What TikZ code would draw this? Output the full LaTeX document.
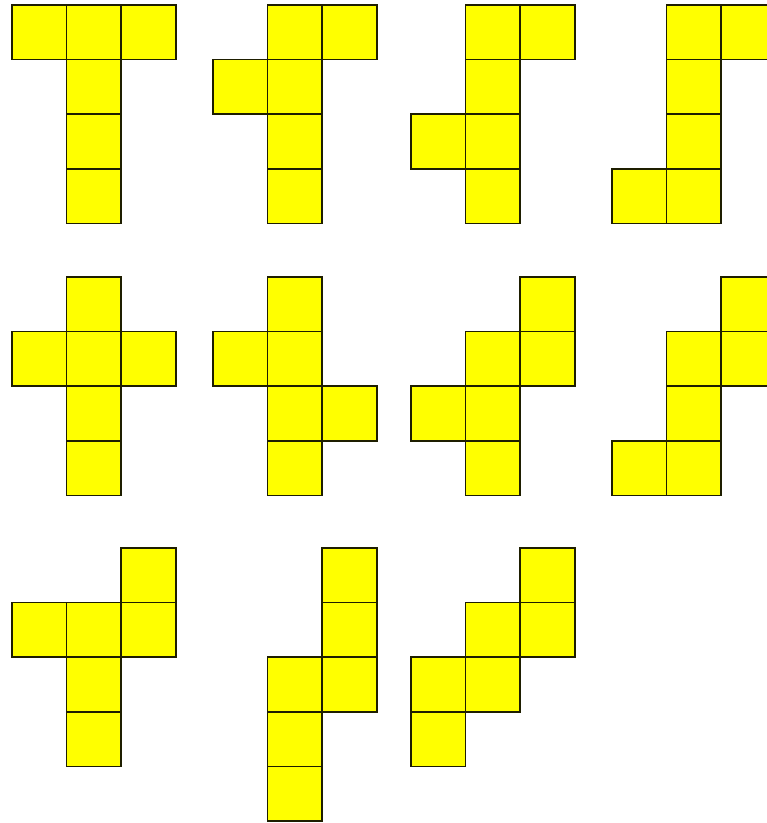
\documentclass[tikz,border=0pt]{standalone}
\begin{document}
\begin{tikzpicture}[x=1pt,y=-1pt,
  facefill/.style={fill={rgb,255:red,255;green,255;blue,0}},
  faceline/.style={draw={rgb,255:red,30;green,30;blue,0},line width=1.6pt,line join=miter}]
\useasboundingbox (0,0) rectangle (767,823);
\clip (0,0) rectangle (767,823);
\def\s{54.6}
\newcommand{\net}[3]{%
  \foreach \c/\r in {#3} {
    \fill[facefill] ({#1+\c*\s},{#2+\r*\s}) rectangle ++(\s,\s);
  }
  \foreach \c/\r in {#3} {
    \draw[faceline] ({#1+\c*\s},{#2+\r*\s}) rectangle ++(\s,\s);
  }}
% row 1
\net{12}{5}{0/0,1/0,2/0,1/1,1/2,1/3}
\net{213}{5}{1/0,2/0,0/1,1/1,1/2,1/3}
\net{411}{5}{1/0,2/0,1/1,0/2,1/2,1/3}
\net{612}{5}{1/0,2/0,1/1,1/2,0/3,1/3}
% row 2
\net{12}{277}{1/0,0/1,1/1,2/1,1/2,1/3}
\net{213}{277}{1/0,0/1,1/1,1/2,2/2,1/3}
\net{411}{277}{2/0,1/1,2/1,0/2,1/2,1/3}
\net{612}{277}{2/0,1/1,2/1,1/2,0/3,1/3}
% row 3
\net{12}{548}{2/0,0/1,1/1,2/1,1/2,1/3}
\net{213}{548}{2/0,2/1,1/2,2/2,1/3,1/4}
\net{411}{548}{2/0,1/1,2/1,0/2,1/2,0/3}
\end{tikzpicture}
\end{document}
